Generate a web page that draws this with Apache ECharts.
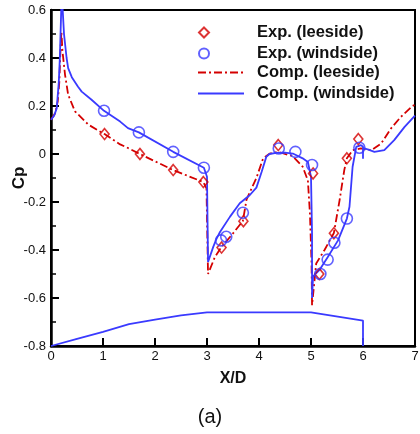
<!DOCTYPE html>
<html><head><meta charset="utf-8">
<script src="https://cdn.jsdelivr.net/npm/echarts@6/dist/echarts.min.js"></script>
<style>html,body{margin:0;padding:0;background:#fff}#c{width:420px;height:434px}</style>
</head><body><div id="c"></div>
<script>
// ---- data ----
const expLeeX = [1.03, 1.71, 2.35, 2.93, 3.28, 3.70, 4.37, 5.04, 5.16, 5.44, 5.69, 5.91];
const expLeeY = [0.083, 0.0, -0.067, -0.117, -0.39, -0.28, 0.037, -0.081, -0.50, -0.33, -0.018, 0.062];

const expWindX = [1.02, 1.69, 2.35, 2.94, 3.27, 3.37, 3.69, 4.38, 4.70, 5.02, 5.18, 5.32, 5.45, 5.69, 5.93];
const expWindY = [0.18, 0.09, 0.009, -0.057, -0.36, -0.345, -0.245, 0.023, 0.009, -0.046, -0.50, -0.44, -0.37, -0.269, 0.026];

const compLeeX = [0, 0.08, 0.13, 0.16, 0.18, 0.2, 0.22, 0.27, 0.33, 0.46, 0.72, 1.03, 1.33, 1.48, 1.71, 2.35, 2.93, 2.99, 3.02, 3.15, 3.28, 3.5, 3.69, 3.76, 3.95, 4.08, 4.21, 4.37, 4.65, 4.84, 4.94, 4.98, 5.01, 5.02, 5.10, 5.26, 5.44, 5.55, 5.64, 5.69, 5.80, 5.96, 6.16, 6.35, 6.54, 6.73, 6.95, 7.0];
const compLeeY = [0.143, 0.17, 0.22, 0.30, 0.42, 0.51, 0.43, 0.33, 0.247, 0.178, 0.122, 0.083, 0.04, 0.025, 0.0, -0.067, -0.117, -0.143, -0.50, -0.43, -0.387, -0.331, -0.279, -0.19, -0.10, -0.018, 0.002, 0.009, -0.009, -0.053, -0.11, -0.25, -0.45, -0.63, -0.456, -0.40, -0.329, -0.192, -0.067, -0.018, 0.016, 0.023, 0.016, 0.044, 0.107, 0.155, 0.2, 0.205];

const compWindX = [0, 0.06, 0.11, 0.15, 0.17, 0.19, 0.205, 0.22, 0.25, 0.3, 0.33, 0.4, 0.52, 0.59, 0.78, 1.02, 1.33, 1.48, 1.69, 2.35, 2.94, 3.0, 3.02, 3.12, 3.18, 3.25, 3.44, 3.63, 3.82, 3.95, 4.05, 4.14, 4.2, 4.33, 4.5, 4.65, 4.84, 4.94, 5.0, 5.02, 5.02, 5.04, 5.16, 5.32, 5.52, 5.69, 5.74, 5.80, 5.87, 5.96, 6.0, 6.0, 6.0, 6.09, 6.22, 6.41, 6.6, 6.8, 7.0];
const compWindY = [0.143, 0.16, 0.19, 0.30, 0.40, 0.55, 0.66, 0.62, 0.50, 0.40, 0.358, 0.32, 0.28, 0.26, 0.226, 0.18, 0.135, 0.108, 0.09, 0.009, -0.057, -0.095, -0.45, -0.387, -0.355, -0.325, -0.262, -0.205, -0.172, -0.14, -0.075, -0.012, 0.0, 0.005, 0.006, 0.002, -0.018, -0.033, -0.095, -0.33, -0.60, -0.51, -0.484, -0.43, -0.36, -0.269, -0.22, -0.053, 0.03, 0.037, 0.03, -0.02, 0.025, 0.019, 0.009, 0.016, 0.058, 0.113, 0.16];

const bodyX = [0, 0.5, 1, 1.5, 2, 2.5, 3, 5, 6, 6];
const bodyY = [-0.8, -0.77, -0.741, -0.709, -0.69, -0.672, -0.66, -0.66, -0.694, -0.8];

const xTickLabels = ['0','1','2','3','4','5','6','7'];
const names = ['Exp. (leeside)', 'Exp. (windside)', 'Comp. (leeside)', 'Comp. (windside)'];

const zip = (a, b) => a.map((v, i) => [v, b[i]]);
const RED = '#d40000', BLUE = '#3a3aff';
const FONT = 'Liberation Sans, Arial, sans-serif';

const chart = echarts.init(document.getElementById('c'), null, {renderer: 'canvas'});
chart.setOption({
  animation: false,
  backgroundColor: '#fff',
  grid: {left: 51, right: 5, top: 10, bottom: 88, show: true, borderColor: '#000', borderWidth: 2,
    containLabel: false, outerBoundsMode: 'none'},
  xAxis: {
    type: 'value', min: 0, max: 7, interval: 1,
    name: 'X/D', nameLocation: 'middle', nameGap: 25,
    nameTextStyle: {fontFamily: FONT, fontWeight: 'bold', fontSize: 16, color: '#111'},
    axisLine: {show: true, onZero: false, lineStyle: {color: '#000', width: 2.5}},
    axisTick: {show: true, inside: true, length: 8, lineStyle: {color: '#000', width: 2}},
    axisLabel: {fontFamily: FONT, fontSize: 13, color: '#111', margin: 4, formatter: (v) => xTickLabels[Math.round(v)]},
    splitLine: {show: false}
  },
  yAxis: {
    type: 'value', min: -0.8, max: 0.6, interval: 0.2,
    name: 'Cp', nameLocation: 'middle', nameGap: 23, nameRotate: 90, nameMoveOverlap: false,
    nameTextStyle: {fontFamily: FONT, fontWeight: 'bold', fontSize: 17, color: '#111'},
    axisLine: {show: true, onZero: false, lineStyle: {color: '#000', width: 2.5}},
    axisTick: {show: true, inside: true, length: 8, lineStyle: {color: '#000', width: 2}},
    minorTick: {show: true, splitNumber: 2, length: 5, lineStyle: {color: '#000', width: 1.5}},
    axisLabel: {fontFamily: FONT, fontSize: 13, color: '#111', margin: 5,
      formatter: (v) => { const r = Math.round(v * 10) / 10; return r === 0 ? '0' : r.toFixed(1); }},
    splitLine: {show: false}
  },
  legend: [
    {
      data: [names[0], names[1]], orient: 'vertical', left: 198, top: 24, padding: 0,
      itemWidth: 10, itemHeight: 10, itemGap: 4,
      textStyle: {fontFamily: FONT, fontWeight: 'bold', fontSize: 16.5, color: '#111', lineHeight: 16, padding: [0, 0, 0, 43]},
      selectedMode: false
    },
    {
      data: [names[2], names[3]], orient: 'vertical', left: 197, top: 64, padding: 0,
      itemWidth: 46, itemHeight: 12, itemGap: 4,
      itemStyle: {color: 'transparent', borderColor: 'transparent', borderWidth: 0, opacity: 0},
      textStyle: {fontFamily: FONT, fontWeight: 'bold', fontSize: 16.5, color: '#111', lineHeight: 16, padding: [0, 0, 0, 8]},
      selectedMode: false
    }
  ],
  graphic: [
    {type: 'text', left: 'center', top: 407, style: {text: '(a)', font: '20px ' + FONT, fill: '#111'}}
  ],
  series: [
    {name: names[0], type: 'scatter', data: zip(expLeeX, expLeeY), symbol: 'diamond', symbolSize: [9, 11],
      itemStyle: {color: 'transparent', borderColor: RED, borderWidth: 1.6}, z: 5},
    {name: names[1], type: 'scatter', data: zip(expWindX, expWindY), symbol: 'circle', symbolSize: 11,
      itemStyle: {color: 'transparent', borderColor: BLUE, borderWidth: 1.6}, z: 5},
    {name: names[2], type: 'line', data: zip(compLeeX, compLeeY), showSymbol: false, symbol: 'none',
      lineStyle: {color: RED, width: 1.8, type: [8, 3, 2, 3]}, itemStyle: {color: RED}, z: 3},
    {name: names[3], type: 'line', data: zip(compWindX, compWindY), showSymbol: false, symbol: 'none',
      lineStyle: {color: BLUE, width: 1.8}, itemStyle: {color: BLUE}, z: 4},
    {name: 'body', type: 'line', data: zip(bodyX, bodyY), showSymbol: false, symbol: 'none',
      lineStyle: {color: BLUE, width: 1.8}, itemStyle: {color: BLUE}, z: 4}
  ]
});
</script>
</body></html>
